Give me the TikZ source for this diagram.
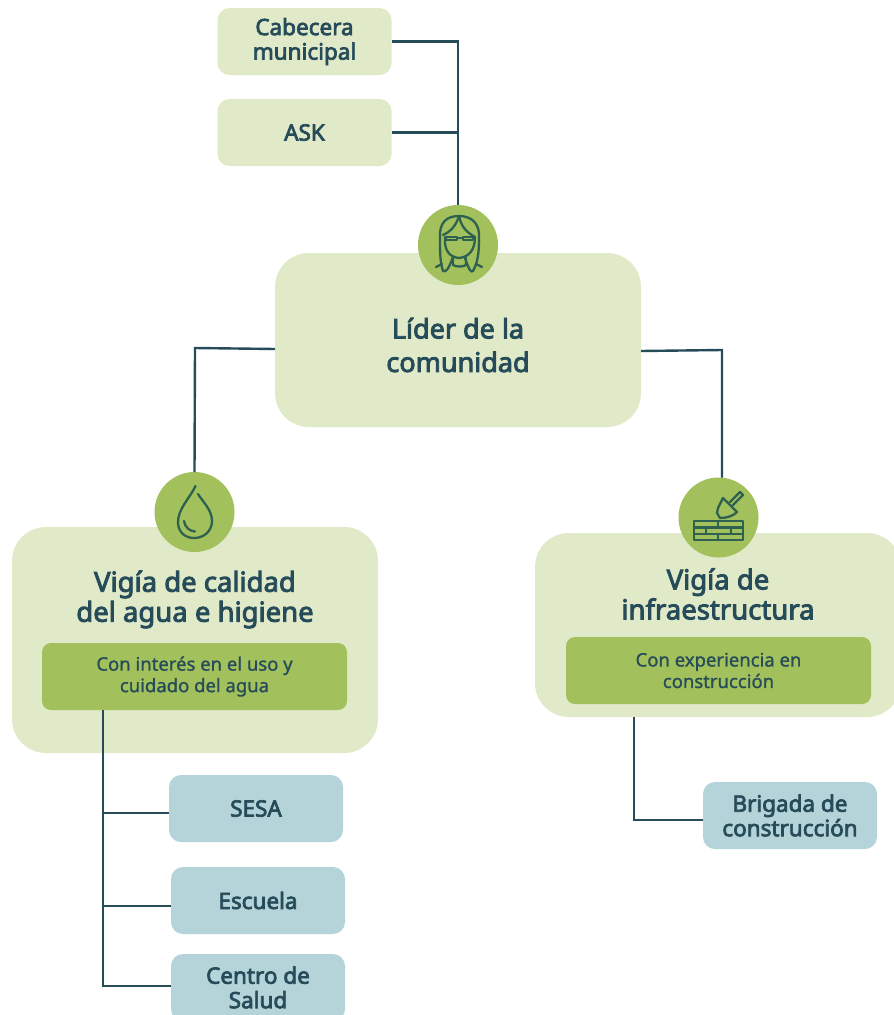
\documentclass[tikz,border=0pt]{standalone}
\usepackage{fontspec}
\setmainfont{Noto Sans}[AutoFakeBold=3.2]
\newfontfamily\medf{Noto Sans}[FakeBold=1]
\definecolor{lightg}{HTML}{E0EAC9}
\definecolor{midg}{HTML}{A2C05B}
\definecolor{inkc}{HTML}{264B59}
\definecolor{bluec}{HTML}{B5D4D9}
\definecolor{iconc}{HTML}{2F6150}
\tikzset{
  x=1pt,y=-1pt,
  every node/.style={inner sep=0pt,outer sep=0pt,align=center,text=inkc},
  link/.style={draw=inkc,line width=2.4pt},
  small/.style={rounded corners=12pt,minimum width=174pt,minimum height=67pt,font=\fontsize{22.5}{24.5}\selectfont\bfseries},
  greensmall/.style={small,fill=lightg},
  bluesmall/.style={small,fill=bluec},
  big/.style={rounded corners=34pt,fill=lightg,minimum width=366pt},
  sub/.style={rounded corners=9pt,fill=midg,minimum width=305pt,minimum height=67pt,font=\medf\fontsize{18.5}{21.5}\selectfont},
  badge/.style={circle,fill=midg,minimum size=80pt},
  ico/.style={draw=iconc,line width=2.3pt,line cap=round,line join=round},
  heading/.style={font=\fontsize{27.5}{30}\selectfont\bfseries}
}
\begin{document}
\begin{tikzpicture}
\useasboundingbox (0,0) rectangle (894,1015);
\clip (0,0) rectangle (894,1015);
\fill[white] (0,0) rectangle (894,1015);
% boxes
\node[greensmall] (cab) at (304.5,41.5) {Cabecera\\municipal};
\node[greensmall] (ask) at (304.5,132.5) {ASK};
\node[big,minimum height=174pt] (lider) at (458,340) {};
\node[font=\fontsize{27}{33.5}\selectfont\bfseries] (lidert) at (458,345) {Líder de la\\comunidad};
\node[big,minimum height=226pt] (agua) at (195,640) {};
\node[heading] (aguat) at (195,599.5) {Vigía de calidad\\del agua e higiene};
\node[sub] (aguas) at (194.5,676.5) {Con interés en el uso y\\cuidado del agua};
\node[big,minimum height=184pt] (infra) at (718,625) {};
\node[heading] (infrat) at (718,594) {Vigía de\\infraestructura};
\node[sub] (infras) at (718.5,670.5) {Con experiencia en\\construcción};
\node[bluesmall] (sesa) at (256,808.5) {SESA};
\node[bluesmall] (escuela) at (258,900.5) {Escuela};
\node[bluesmall] (centro) at (258,987.5) {Centro de\\Salud};
\node[bluesmall] (brigada) at (790,815.5) {Brigada de\\construcción};
% badges
\node[badge] (bl) at (458,245) {};
\node[badge] (ba) at (194.5,512) {};
\node[badge] (bi) at (718.5,517.5) {};
% connectors
\coordinate (ct) at (102.7,710);
\coordinate (ci) at (634,704);
\coordinate (lL) at (195,348);
\coordinate (lR) at (722,350);
\draw[link] (cab.east) -- (cab.east -| bl.north) -- (bl.north);
\draw[link] (ask.east) -- (ask.east -| bl.north);
\draw[link] (lider.west |- 0,349) -- (lL) -- (ba.north);
\draw[link] (lider.east |- 0,351) -- (lR) -- (lR |- bi.north);
\draw[link] (ct) -- (ct |- 0,986) -- (centro.west |- 0,986);
\draw[link] (sesa.west |- 0,813) -- (ct |- 0,813);
\draw[link] (escuela.west |- 0,906) -- (ct |- 0,906);
\draw[link] (ci |- infra.south) -- (ci |- 0,820) -- (brigada.west |- 0,820);
% woman icon
\begin{scope}[ico]
\draw (440,238) .. controls (439,222) and (447,216) .. (459,216) .. controls (472,216) and (480,224) .. (479,238) .. controls (479,252) and (478,262) .. (473,271) .. controls (471,273) and (469,270) .. (465,258);
\draw (440,238) .. controls (440,252) and (440,262) .. (443,271) .. controls (446,273) and (449,268) .. (453,257);
\draw (459,216) .. controls (461,226) and (466,232) .. (475,237);
\draw (459,216) .. controls (456,226) and (450,232) .. (443,235);
\draw (445,237) .. controls (444,250) and (449,257) .. (459,258) .. controls (469,257) and (475,250) .. (475,237);
\draw (453,258) -- (453,265) .. controls (456,267) and (463,267) .. (466,265) -- (466,258);
\draw (436,267) -- (442,264);
\draw (482,267) -- (476,264);
\draw (446,237) rectangle (457,240);
\draw (463,237) rectangle (473,240);
\draw (457,238) -- (463,238);
\end{scope}
% drop icon
\begin{scope}[ico]
\draw (195.5,486) .. controls (190,498) and (177.5,509) .. (178,523) .. controls (178.5,533) and (186,538) .. (194,538) .. controls (204,538) and (212,531) .. (212,521) .. controls (212,510) and (203,502) .. (198,494);
\draw (184,521) .. controls (185,527) and (189,531) .. (195,531.5);
\end{scope}
% trowel and bricks icon
\begin{scope}[ico]
\draw (694,521) rectangle (743,540);
\draw (694,527.5) -- (743,527.5);
\draw (694,534) -- (743,534);
\draw (718,521) -- (718,527.5);
\draw (706,527.5) -- (706,534);
\draw (731,527.5) -- (731,534);
\draw (718,534) -- (718,540);
\draw (723,498) -- (737,512) .. controls (733,516) and (727,518) .. (720,518) -- (717,513) -- (718,508) -- cycle;
\draw (730,502) -- (740,492) -- (743,495) -- (733,505);
\end{scope}
\end{tikzpicture}
\end{document}
